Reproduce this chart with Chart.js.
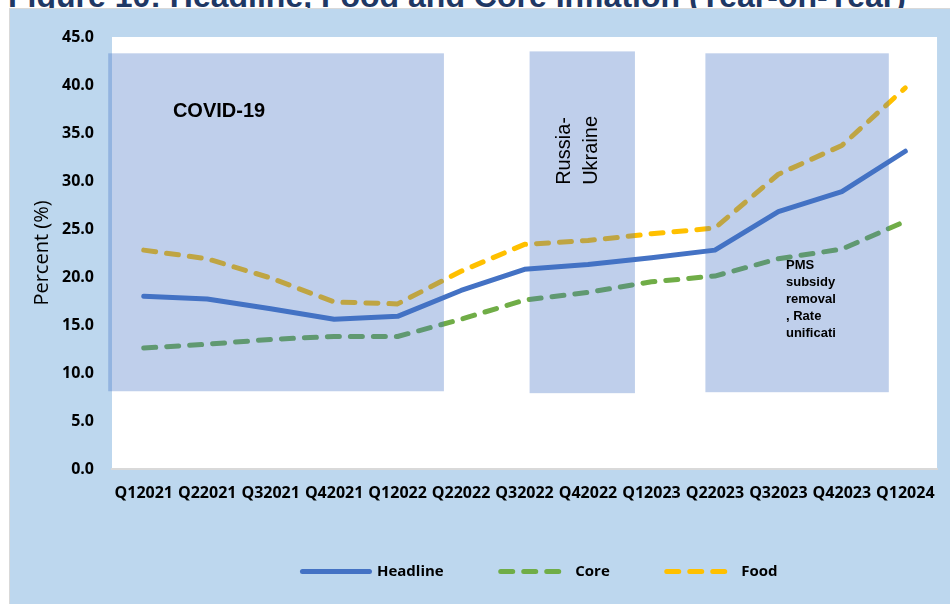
<!DOCTYPE html>
<html>
<head>
<meta charset="utf-8">
<script src="https://cdn.jsdelivr.net/npm/chart.js@4"></script>
<style>
  html, body { margin: 0; padding: 0; background: #fff; }
  #caixa { position: relative; width: 950px; height: 604px; overflow: hidden; }
  #titulo {
    position: absolute; left: 8px; top: -20px;
    font: bold 32px "Liberation Sans", Arial, sans-serif; line-height: 32px;
    color: #1f3864; white-space: nowrap;
  }
  #grafico { position: absolute; left: 0; top: 0; }
</style>
</head>
<body>
<div id="caixa">
  <div id="titulo">Figure 10: Headline, Food and Core Inflation (Year-on-Year)</div>
  <canvas id="grafico" width="950" height="604"></canvas>
</div>
<script>
const trimestres = ["Q12021", "Q22021", "Q32021", "Q42021", "Q12022", "Q22022", "Q32022",
  "Q42022", "Q12023", "Q22023", "Q32023", "Q42023", "Q12024"];

const headline = [18.0, 17.7, 16.7, 15.6, 15.9, 18.6, 20.8, 21.3, 22.0, 22.8, 26.8, 28.9, 33.1];
const core = [12.6, 13.0, 13.5, 13.8, 13.8, 15.6, 17.6, 18.4, 19.5, 20.1, 21.9, 22.9, 25.8];
const food = [22.8, 21.9, 19.9, 17.4, 17.2, 20.6, 23.4, 23.8, 24.5, 25.1, 30.7, 33.7, 39.7];

const yMin = 0, yMax = 45, yPasso = 5;

// periodos sombreados (em unidades do eixo: indice do trimestre / percentual)
const sombras = [
  { de: -0.56, ate: 4.73, base: 8.1, topo: 43.3, texto: ["COVID-19"],
    fonte: 'bold 20px "Liberation Sans", Arial', tx: 0.46, ty: 37.2, giro: 0, entre: 0 },
  { de: 6.08, ate: 7.74, base: 7.9, topo: 43.5, texto: ["Russia-", "Ukraine"],
    fonte: '20px "Liberation Sans", Arial', tx: 6.63, ty: 29.6, giro: -90, entre: 27 },
  { de: 8.85, ate: 11.74, base: 8.0, topo: 43.3, texto: ["PMS", "subsidy", "removal", ", Rate", "unificati"],
    fonte: 'bold 13px "Liberation Sans", Arial', tx: 10.12, ty: 21.2, giro: 0, entre: 17 }
];

const fonteEixo = { family: '"Open Sans", sans-serif', size: 16, weight: 'bold' };

const fundo = {
  id: 'fundo',
  beforeDraw(chart) {
    const { ctx, chartArea: a, width, height } = chart;
    ctx.save();
    ctx.fillStyle = '#d9d9d9';
    ctx.fillRect(9, 8, width - 9, height - 8);
    ctx.fillStyle = '#bdd7ee';
    ctx.fillRect(10, 9, width - 10, height - 9);
    ctx.fillStyle = '#ffffff';
    ctx.fillRect(a.left, a.top, a.right - a.left, a.bottom - a.top);
    ctx.restore();
  }
};

const periodos = {
  id: 'periodos',
  afterDatasetsDraw(chart) {
    const { ctx, scales: { x, y } } = chart;
    ctx.save();
    sombras.forEach(s => {
      const x1 = x.getPixelForValue(s.de), x2 = x.getPixelForValue(s.ate);
      const y1 = y.getPixelForValue(s.topo), y2 = y.getPixelForValue(s.base);
      ctx.fillStyle = 'rgba(68, 114, 196, 0.34)';
      ctx.fillRect(x1, y1, x2 - x1, y2 - y1);
    });
    sombras.forEach(s => {
      ctx.save();
      ctx.translate(x.getPixelForValue(s.tx), y.getPixelForValue(s.ty));
      ctx.rotate(s.giro * Math.PI / 180);
      ctx.font = s.fonte;
      ctx.fillStyle = '#000';
      ctx.textAlign = 'left';
      ctx.textBaseline = 'middle';
      s.texto.forEach((linha, i) => ctx.fillText(linha, 0, i * s.entre));
      ctx.restore();
    });
    ctx.restore();
  }
};

// empurra a legenda um pouco para a direita
const legendaDesloc = {
  id: 'legendaDesloc',
  afterLayout(chart) {
    chart.legend.left += 71;
    chart.legend.right += 71;
  }
};

const linha = (label, dados, cor, tracejado) => ({
  label,
  data: dados,
  borderColor: cor,
  backgroundColor: cor,
  borderWidth: 5,
  borderCapStyle: 'round',
  borderJoinStyle: 'round',
  borderDash: tracejado ? [12, 11] : [],
  pointRadius: 0,
  pointHoverRadius: 0,
  tension: 0,
  fill: false
});

new Chart(document.getElementById('grafico'), {
  type: 'line',
  data: {
    labels: trimestres,
    datasets: [
      linha('Headline', headline, '#4472c4', false),
      linha('Core', core, '#70ad47', true),
      linha('Food', food, '#ffc000', true)
    ]
  },
  options: {
    responsive: false,
    animation: false,
    layout: { padding: { top: 37, right: 12, left: 0, bottom: 15 } },
    plugins: {
      tooltip: { enabled: false },
      legend: {
        position: 'bottom',
        labels: {
          usePointStyle: true,
          pointStyleWidth: 67,
          padding: 57,
          color: '#000',
          font: { family: '"Open Sans", sans-serif', size: 15, weight: 'bold' },
          generateLabels: chart => chart.data.datasets.map((d, i) => ({
            text: d.label,
            datasetIndex: i,
            strokeStyle: d.borderColor,
            fillStyle: d.borderColor,
            lineWidth: d.borderWidth,
            lineDash: d.borderDash,
            lineCap: d.borderCapStyle,
            pointStyle: 'line',
            fontColor: '#000',
            hidden: false
          }))
        }
      }
    },
    scales: {
      x: {
        offset: true,
        grid: { display: false, drawTicks: false },
        border: { color: '#d9d9d9', width: 2 },
        ticks: { color: '#000', font: fonteEixo, padding: 15, maxRotation: 0, autoSkip: false },
        afterFit(s) { s.height = 38; }
      },
      y: {
        min: yMin,
        max: yMax,
        grid: { display: false, drawTicks: false },
        border: { display: false },
        ticks: {
          stepSize: yPasso,
          color: '#000',
          font: fonteEixo,
          padding: 18,
          callback: v => v.toFixed(1)
        },
        title: {
          display: true,
          text: 'Percent (%)',
          color: '#000',
          font: { family: '"Open Sans", sans-serif', size: 20 },
          padding: { top: 30, bottom: 0 }
        },
        afterFit(s) { s.width = 112; }
      }
    }
  },
  plugins: [fundo, periodos, legendaDesloc]
});
</script>
</body>
</html>
